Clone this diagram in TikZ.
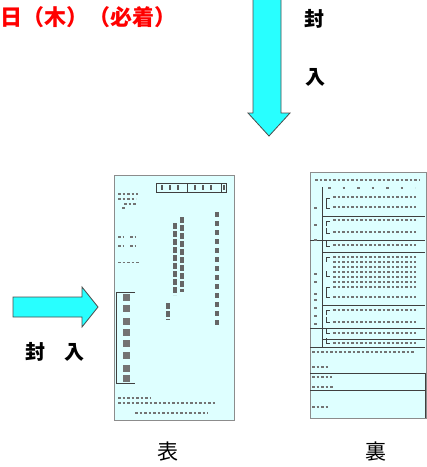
\documentclass[tikz,border=0pt]{standalone}
\usepackage{fontspec}
\newfontfamily\jpfont{Noto Sans CJK JP}
\definecolor{arrowcyan}{RGB}{40,255,255}
\definecolor{paper}{RGB}{222,255,255}
\tikzset{
  blockarrow/.style={fill=arrowcyan, draw=black!70, line width=0.8pt, line join=miter},
  envelope/.style={fill=paper, draw=black!45, line width=1pt},
  rule/.style={draw=black!75, line width=0.8pt},
  scribble/.style={draw=black!55, line width=2.2pt, dash pattern=on 2.5pt off 2pt},
  vcol/.style={draw=black!60, line width=4.5pt, dash pattern=on 5.5pt off 2.5pt},
  bigchar/.style={font=\jpfont\bfseries\fontsize{20}{20}\selectfont, inner sep=0pt},
  sidename/.style={font=\jpfont\fontsize{21}{21}\selectfont, inner sep=0pt},
}
\begin{document}
\begin{tikzpicture}[x=1pt,y=-1pt]
	\useasboundingbox (0,0) rectangle (427,467);
	% deadline
	\node[bigchar, anchor=west, text=red, font=\jpfont\bfseries\fontsize{22}{22}\selectfont] (deadline) at (0,17) {日（木）（必着）};
	% arrows
	\draw[blockarrow] (253,-2) -- (253,113) -- (248,113) -- (269,136) -- (290,113) -- (281,113) -- (281,-2) -- cycle;
	\node[bigchar] (fu1) at (314,19) {封};
	\node[bigchar] (nyu1) at (315,77) {入};
	\draw[blockarrow] (13,297) -- (82,297) -- (82,287) -- (98,307) -- (82,327) -- (82,317) -- (13,317) -- cycle;
	\node[bigchar] (fu2) at (36,352) {封};
	\node[bigchar] (nyu2) at (74,352) {入};
	% front
	\draw[envelope] (114,175) rectangle (234,420);
	\draw[rule] (156,183) rectangle (226,192);
	\draw[rule] (187,183) -- (187,192);
	\draw[rule] (221,183) -- (221,192);
	\foreach \x in {162,170,178,195,203,211,224}
		\fill[black!65] (\x-1.2,185) rectangle (\x+1.2,190);
	\foreach \y/\a/\b in {194/118/138,199/118/136,204/124/136,208/122/126}
		\draw[scribble, line width=1.6pt] (\a,\y) -- (\b,\y);
	\foreach \y in {237,246}
		\draw[scribble] (118,\y) -- (124,\y) (130,\y) -- (136,\y);
	\draw[scribble, line width=1pt] (118,262) -- (140,262);
	\draw[vcol] (182,217) -- (182,292);
	\draw[vcol] (175,223) -- (175,295);
	\draw[vcol] (168,303) -- (168,320);
	\draw[vcol, line width=3.5pt, dash pattern=on 5pt off 4pt] (217,212) -- (217,328);
	\draw[rule] (135,292) -- (116,292) -- (116,383) -- (135,383);
	\foreach \y in {297,308,321,332,343,355,368,378}
		\fill[black!55] (123,\y-3.5) rectangle (130,\y+3.5);
	\draw[scribble, line width=1.6pt] (118,398) -- (150,398);
	\draw[scribble, line width=1.6pt] (118,403) -- (215,403);
	\draw[scribble, line width=1.6pt] (135,413) -- (208,413);
	% back
	\draw[envelope] (310,172) rectangle (426,418);
	\draw[rule] (322,187) -- (322,347);
	\foreach \y in {216,252,305,339}
		\draw[rule] (322,\y) -- (425,\y);
	\foreach \y in {240,328,347,373,390}
		\draw[rule] (310,\y) -- (425,\y);
	\draw[rule] (425,373) -- (425,418);
	\foreach \y in {198,221,257,287,310}
		\draw[rule, line width=0.6pt] (330,\y) -- (326,\y) -- (326,\y+5);
	\foreach \y in {208,233,246,276,297,322,333,343}
		\draw[rule, line width=0.6pt] (326,\y-5) -- (326,\y) -- (330,\y);
	\draw[scribble] (315,180) -- (420,180);
	\draw[scribble, dash pattern=on 2.5pt off 12pt] (328,188) -- (415,188);
	\foreach \y in {197,207,220,232,245,257,262,267,272,277,282,287,297,310,322,333,343}
		\draw[scribble, line width=1.8pt] (333,\y) -- (416,\y);
	\foreach \y in {208,225,240,274,282,294,300,308,316,324}
		\draw[scribble, line width=1.8pt] (314,\y) -- (318,\y);
	\draw[scribble, line width=1.6pt] (312,352) -- (415,352);
	\foreach \y/\b in {367/328,377/332,387/333,407/328}
		\draw[scribble, line width=1.6pt] (312,\y) -- (\b,\y);
	% labels
	\node[sidename] (omote) at (168,452) {表};
	\node[sidename] (ura) at (376,452) {裏};
\end{tikzpicture}
\end{document}
